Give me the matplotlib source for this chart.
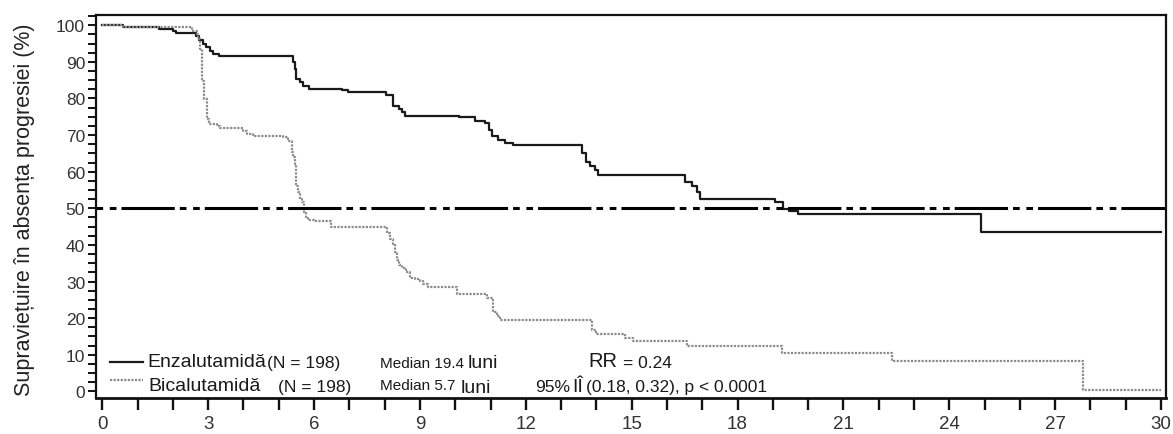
import numpy as np
import matplotlib
matplotlib.use("Agg")
import matplotlib.pyplot as plt
from matplotlib import font_manager
from matplotlib.ticker import MultipleLocator

# Kaplan-Meier step data (months, % free of progression)
enza_t = [0, 0.6, 1.6, 2.0, 2.1, 2.65, 2.75, 2.85, 2.95, 3.05, 3.15, 3.3,
          5.4, 5.45, 5.5, 5.6, 5.7, 5.85, 6.8, 6.95, 8.05, 8.25, 8.4, 8.5,
          8.58, 10.1, 10.55, 10.85, 10.95, 11.05, 11.2, 11.4, 11.65, 13.6,
          13.7, 13.82, 13.96, 14.05, 16.5, 16.7, 16.85, 16.95, 19.05, 19.3,
          19.45, 19.7, 24.9, 30]
enza_s = [100, 99.5, 99, 98.5, 98, 97, 96, 95, 94, 93, 92.2, 91.7,
          90, 88, 85.3, 84.5, 83.3, 82.6, 82.2, 81.7, 81, 77.9, 77.1, 76.3,
          75.1, 74.9, 73.8, 73.3, 71.5, 69.8, 68.6, 67.8, 67.3, 65,
          62.6, 61.6, 60.5, 59.2, 57.1, 56.2, 54.4, 52.5, 51.8, 49.8,
          49.2, 48.4, 43.4, 43.4]

bica_t = [0, 0.6, 2.55, 2.67, 2.72, 2.77, 2.82, 2.88, 2.96, 3.03, 3.24, 3.34,
          4.0, 4.09, 4.27, 5.12, 5.27, 5.37, 5.41, 5.46, 5.49, 5.54, 5.6,
          5.67, 5.72, 5.76, 5.84, 6.0, 6.48, 8.06, 8.15, 8.25, 8.3, 8.36,
          8.42, 8.5, 8.6, 8.72, 8.86, 9.0, 9.08, 9.24, 10.04, 10.9, 11.08,
          11.18, 11.27, 13.88, 14.0, 14.8, 15.05, 16.57, 19.25, 22.37, 27.8, 30]
bica_s = [100, 99.5, 98.5, 97.6, 96.3, 93.5, 84.9, 79.9, 74.4, 73.0, 72.4, 71.9,
          71.2, 70.3, 69.8, 69.4, 68.5, 65.3, 64.0, 62.1, 56.2, 54.4, 52.5,
          51.6, 48.9, 47.3, 46.8, 46.4, 44.8, 43.2, 41.6, 40.2, 38.0, 36.0,
          34.5, 33.6, 32.5, 31.1, 30.7, 30.2, 29.3, 28.4, 26.7, 25.6, 21.6,
          20.7, 19.6, 16.8, 15.7, 14.7, 13.8, 12.4, 10.6, 8.2, 0.5, 0.5]

x_ticks = np.arange(0, 31, 3)
y_ticks = np.arange(0, 101, 10)

names = {f.name for f in font_manager.fontManager.ttflist}
REG = "Liberation Sans"
NARROW = "Liberation Sans Narrow" if "Liberation Sans Narrow" in names else REG
# the narrow face is optional, fall back to a smaller regular size
MED_SIZE = 12.5 if NARROW != REG else 11

plt.rcParams["font.family"] = REG

fig = plt.figure(figsize=(11.73, 4.35), dpi=100)
ax = fig.add_axes([0.0818, 0.0828, 0.9122, 0.8805])

ax.plot(enza_t, enza_s, drawstyle="steps-post", color="#1a1a1a", lw=1.6)
ax.plot(bica_t, bica_s, drawstyle="steps-post", color="#8c8c8c", lw=1.6,
        linestyle=(0, (1, 0.6)))

# median reference line
ax.axhline(50, color="black", lw=2.2,
           linestyle=(19.1, (17.45, 1.64, 2.18, 2.18, 2.18, 1.64)))

ax.set_xlim(-0.18, 30.14)
ax.set_ylim(-1.8, 102.8)

ax.set_xticks(x_ticks)
ax.set_xticklabels([str(v) for v in x_ticks], fontsize=13.5, family=NARROW)
ax.xaxis.set_minor_locator(MultipleLocator(1))
ax.set_yticks(y_ticks)
ax.set_yticklabels([str(v) for v in y_ticks], fontsize=12.5)
ax.yaxis.set_minor_locator(MultipleLocator(2.5))

ax.tick_params(axis="x", which="both", direction="out", length=8.5, width=1.7,
               pad=4, colors="#111111", labelcolor="#333333")
ax.tick_params(axis="y", which="both", direction="out", length=5.8, width=1.4,
               pad=2, colors="#111111", labelcolor="#333333")

for side in ["left", "bottom", "right", "top"]:
    ax.spines[side].set_linewidth(1.6)
    ax.spines[side].set_color("#111111")
ax.spines["bottom"].set_linewidth(2.0)

fig.text(0.0213, 0.517, "Supraviețuire în absența progresiei (%)", rotation=90,
         ha="center", va="center", fontsize=15.5, color="#222222")

# legend rows
ax.plot([0.22, 1.16], [7.9, 7.9], color="#1a1a1a", lw=1.6)
ax.plot([0.22, 1.16], [3.1, 3.1], color="#8c8c8c", lw=1.6,
        linestyle=(0, (1, 0.6)))

txt = dict(va="baseline", ha="left", color="#1a1a1a")
ax.text(1.27, 7.0, "Enzalutamidă", fontsize=14, **txt)
ax.text(4.67, 6.6, "(N = 198)", fontsize=12.5, **txt)
ax.text(7.87, 6.6, "Median 19.4", fontsize=MED_SIZE, family=NARROW, **txt)
ax.text(10.35, 6.6, "luni", fontsize=14, **txt)
ax.text(13.76, 7.0, "RR", fontsize=14.5, **txt)
ax.text(14.75, 6.6, "= 0.24", fontsize=12.5, **txt)

ax.text(1.3, 0.45, "Bicalutamidă", fontsize=14, **txt)
ax.text(4.97, 0.15, "(N = 198)", fontsize=12.5, **txt)
ax.text(7.87, 0.6, "Median 5.7", fontsize=MED_SIZE, family=NARROW, **txt)
ax.text(10.15, -0.27, "luni", fontsize=14, **txt)
ax.text(12.26, 0.15, "95%", fontsize=12.5, **txt)
ax.text(13.32, 0.15, "IÎ", fontsize=14, **txt)
ax.text(13.72, 0.15, "(0.18, 0.32), p < 0.0001", fontsize=12.5, **txt)

fig.savefig("out.png", dpi=100)
